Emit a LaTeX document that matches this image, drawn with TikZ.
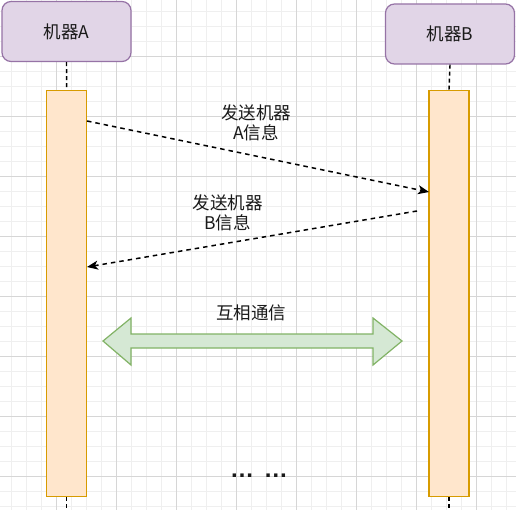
\documentclass[tikz,border=0pt]{standalone}
\usepackage{fontspec}
\setmainfont{Noto Sans CJK SC}
\newfontfamily\latfont{Liberation Sans}
\usetikzlibrary{arrows.meta}
\definecolor{boxfill}{HTML}{E1D5E7}
\definecolor{boxline}{HTML}{9673A6}
\definecolor{barfill}{HTML}{FFE6CC}
\definecolor{barline}{HTML}{D79B00}
\definecolor{dfill}{HTML}{D5E8D4}
\definecolor{dline}{HTML}{82B366}
\definecolor{gminor}{HTML}{EFEFEF}
\definecolor{gmajor}{HTML}{D6D6D6}
\definecolor{txt}{HTML}{1A1A1A}
\begin{document}
\begin{tikzpicture}[x=1pt,y=-1pt,
  actorbox/.style={draw=boxline, fill=boxfill, line width=1.2pt, rounded corners=9pt,
     minimum width=129pt, minimum height=60pt, inner sep=0pt, font=\fontsize{17.5}{20}\selectfont, text=txt},
  barbox/.style={draw=barline, fill=barfill, line width=1.4pt, minimum width=40pt, minimum height=406pt, inner sep=0pt},
  lifeline/.style={draw=black, line width=1.4pt, dash pattern=on 4pt off 3pt},
  msg/.style={draw=black, line width=1.5pt, dash pattern=on 4.5pt off 4pt, -{Stealth[length=11pt,width=9pt,inset=3pt]}},
  lbl/.style={font=\fontsize{17.5}{20}\selectfont, align=center, text=txt, inner sep=0pt}
]
\useasboundingbox (0,0) rectangle (516,510);
\fill[white] (0,0) rectangle (516,510);
\foreach \v in {11,26,...,506} {
  \draw[gminor, line width=0.8pt] (\v,0) -- (\v,510);
  \draw[gminor, line width=0.8pt] (0,\v) -- (516,\v);
}
\foreach \v in {56,116,...,476} {
  \draw[gmajor, line width=0.9pt] (\v,0) -- (\v,510);
  \draw[gmajor, line width=0.9pt] (0,\v) -- (516,\v);
}
% actors
\node[actorbox] (A) at (66.5,31.5) {机器A};
\node[actorbox] (B) at (450,34) {机器B};
% activation bars
\node[barbox] (barA) at (66.7,293.7) {};
\node[barbox] (barB) at (449,293.7) {};
\coordinate (endA) at (66.7,510);
\coordinate (endB) at (449,510);
% lifelines
\draw[lifeline] (A.south) -- (barA.north);
\draw[lifeline] (B.south) -- (barB.north);
\draw[lifeline] (barA.south) -- (endA);
\draw[lifeline] (barB.south) -- (endB);
% messages
\coordinate (m1s) at (87,121);
\coordinate (m1e) at (429,192);
\coordinate (m2s) at (417,211);
\coordinate (m2e) at (87,267);
\draw[msg] (m1s) -- (m1e);
\draw[msg] (m2s) -- (m2e);
\node[lbl] (l1) at (256,123) {发送机器\\A信息};
\node[lbl] (l2) at (227.5,213) {发送机器\\B信息};
% double arrow
\draw[draw=dline, fill=dfill, line width=1.2pt, line join=miter]
  (103,341) -- (131,318) -- (131,334) -- (373,334) -- (373,318) -- (402,341)
  -- (373,365) -- (373,348) -- (131,348) -- (131,365) -- cycle;
\node[lbl] (l3) at (251,313) {互相通信};
% ellipsis
\node[font=\latfont\bfseries\fontsize{24}{26}\selectfont, inner sep=0pt, anchor=base, text=txt] (dots) at (259,477.5) {…\hspace{10pt}…};
\end{tikzpicture}
\end{document}
